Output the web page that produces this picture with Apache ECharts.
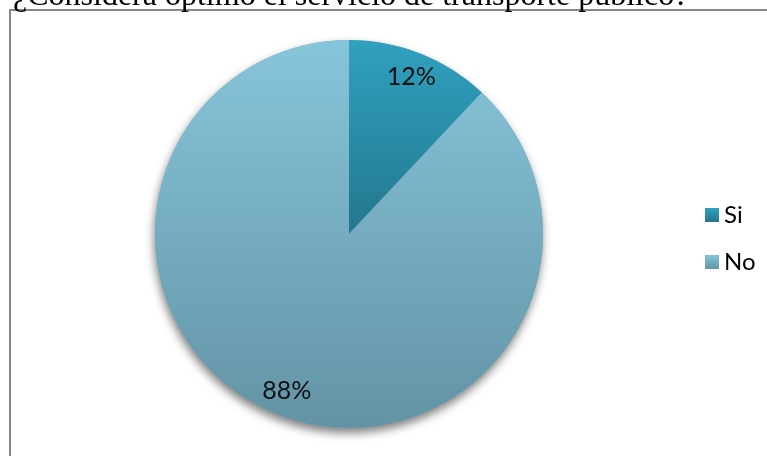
<!DOCTYPE html>
<html>
<head>
<meta charset="utf-8">
<script src="https://cdn.jsdelivr.net/npm/echarts@6/dist/echarts.min.js"></script>
<style>
  html, body { margin: 0; padding: 0; background: #ffffff; }
  #chart { width: 767px; height: 456px; }
</style>
</head>
<body>
<div id="chart"></div>
<script>
// Survey answers and their shares (percent)
const categories = ['Si', 'No'];
const values = [12, 88];
const titleText = '¿Considera óptimo el servicio de transporte público?';

// Top / bottom shade of each slice's vertical gradient
const sliceShades = [
  ['#30a1bf', '#23778e'],
  ['#87c5da', '#6393a5']
];

function shade(pair) {
  return new echarts.graphic.LinearGradient(0, 0, 0, 1, [
    { offset: 0, color: pair[0] },
    { offset: 1, color: pair[1] }
  ]);
}

const chart = echarts.init(document.getElementById('chart'), null, { renderer: 'canvas' });

const center = [349, 234];
const R = 194;

const sliceData = categories.map((name, i) => ({
  name: name,
  value: values[i],
  itemStyle: { color: shade(sliceShades[i]) }
}));

const labelData = categories.map((name, i) => ({
  name: name,
  value: values[i],
  itemStyle: { color: 'rgba(0,0,0,0)' }
}));

const option = {
  animation: false,
  graphic: [
    {
      type: 'rect',
      z: 0,
      shape: { x: 10, y: 10, width: 820, height: 520 },
      style: { fill: 'none', stroke: '#878787', lineWidth: 2 }
    },
    {
      type: 'text',
      z: 10,
      x: 13,
      y: -3,
      style: {
        text: titleText,
        font: '32px "Liberation Serif", "Times New Roman", serif',
        fill: '#000000',
        textVerticalAlign: 'middle'
      }
    }
  ],
  legend: {
    orient: 'vertical',
    left: 700,
    top: 198,
    icon: 'rect',
    itemWidth: 14,
    itemHeight: 14,
    itemGap: 23,
    data: categories.map((name, i) => ({
      name: name,
      itemStyle: { color: shade(sliceShades[i]) }
    })),
    textStyle: {
      fontFamily: 'Lato, "Noto Sans", sans-serif',
      fontSize: 24,
      color: '#000000',
      lineHeight: 24,
      padding: [0, 0, 0, 0]
    }
  },
  series: [
    {
      // solid disc that casts the drop shadow under the pie
      type: 'pie',
      silent: true,
      z: 1,
      center: center,
      radius: [0, R],
      label: { show: false },
      labelLine: { show: false },
      data: [{ name: '', value: 1, itemStyle: { color: '#7aaabb', shadowBlur: 10, shadowOffsetY: 5, shadowOffsetX: -1, shadowColor: 'rgba(0,0,0,0.5)' } }]
    },
    {
      type: 'pie',
      z: 2,
      center: center,
      radius: [0, R],
      startAngle: 90,
      clockwise: true,
      label: { show: false },
      labelLine: { show: false },
      emphasis: { disabled: true },
      data: sliceData
    },
    {
      // ring that places the percent labels near the rim
      type: 'pie',
      silent: true,
      z: 3,
      center: center,
      radius: [138, R],
      startAngle: 90,
      clockwise: true,
      labelLine: { show: false },
      label: {
        show: true,
        position: 'inside',
        formatter: '{c}%',
        fontFamily: 'Lato, "Noto Sans", sans-serif',
        fontSize: 25,
        color: '#111111'
      },
      data: labelData
    }
  ]
};

chart.setOption(option);
</script>
</body>
</html>
